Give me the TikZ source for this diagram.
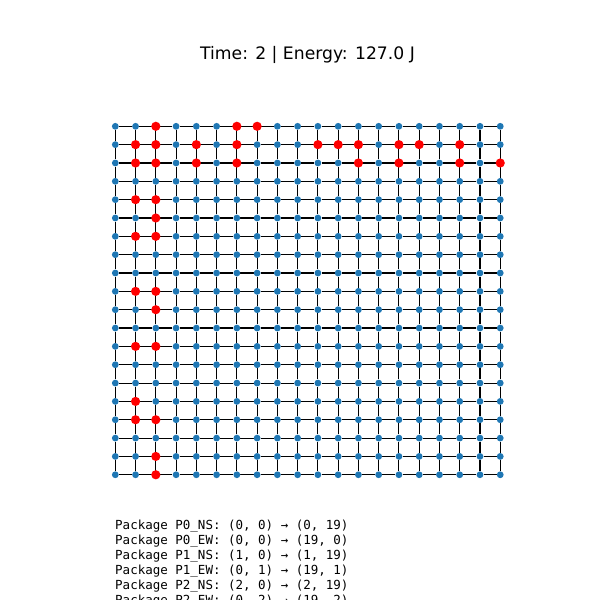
\documentclass[tikz,border=0pt]{standalone}
\usepackage{fontspec}
\setmainfont{DejaVu Sans}
\setmonofont{DejaVu Sans Mono}
\usepackage{xcolor}
\usepackage{tikz}
\usetikzlibrary{backgrounds}
\definecolor{tabblue}{HTML}{1F77B4}

\begin{document}
\begin{tikzpicture}[
  x=1pt, y=1pt,
  site/.style={circle, fill=tabblue, inner sep=0pt, minimum size=6.8pt},
  busy/.style={circle, fill=red, inner sep=0pt, minimum size=9.2pt},
  link/.style={line width=1.1pt, black},
  title/.style={anchor=base, font=\fontsize{17.2}{20}\selectfont},
  info/.style={anchor=base west, inner sep=0pt, font=\ttfamily\fontsize{12.5}{15}\selectfont}
]
\useasboundingbox (0,0) rectangle (600,-600);

% grid of sites
\foreach \c in {0,...,19}
  \foreach \r in {0,...,19}
    \node[site] (v-\c-\r) at ({115.3+20.26*\c},{-126.3-18.34*\r}) {};

\begin{scope}[on background layer]
\foreach \c in {0,...,19} {
  \foreach \r [evaluate=\r as \s using int(\r+1)] in {0,...,18} {
    \draw[link] (v-\c-\r) -- (v-\c-\s);
    \draw[link] (v-\r-\c) -- (v-\s-\c);
  }
}
\end{scope}

% occupied sites
\foreach \c/\r in {2/0,6/0,7/0,
    1/1,2/1,4/1,6/1,10/1,11/1,12/1,14/1,15/1,17/1,
    1/2,2/2,4/2,6/2,12/2,14/2,17/2,19/2,
    1/4,2/4,2/5,1/6,2/6,1/9,2/9,2/10,1/12,2/12,
    1/15,1/16,2/16,2/18,2/19}
  \node[busy] (p-\c-\r) at (v-\c-\r) {};

\node[title] (head) at (307.5,-59.3) {Time: 2 | Energy: 127.0 J};

\node[info] (l0) at (115,-529.5) {Package P0\_NS: (0, 0) → (0, 19)};
\node[info] (l1) at (115,-544.5) {Package P0\_EW: (0, 0) → (19, 0)};
\node[info] (l2) at (115,-559.5) {Package P1\_NS: (1, 0) → (1, 19)};
\node[info] (l3) at (115,-574.5) {Package P1\_EW: (0, 1) → (19, 1)};
\node[info] (l4) at (115,-589.5) {Package P2\_NS: (2, 0) → (2, 19)};
\node[info] (l5) at (115,-604.5) {Package P2\_EW: (0, 2) → (19, 2)};
\end{tikzpicture}
\end{document}
